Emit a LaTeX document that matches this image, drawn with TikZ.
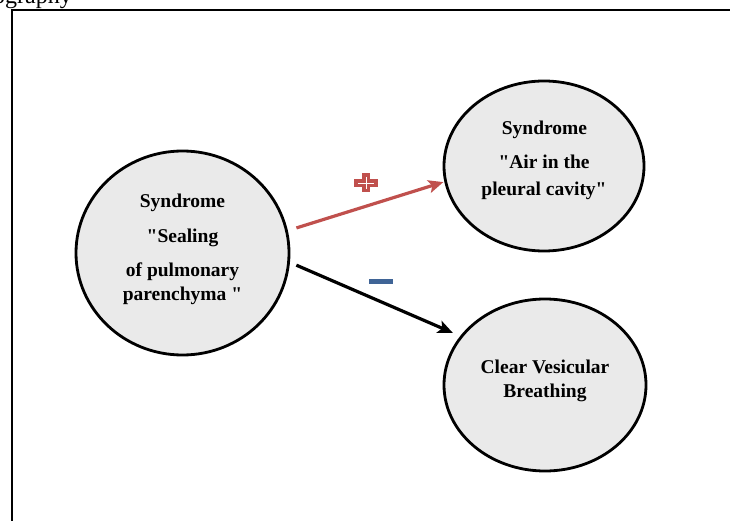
\documentclass[tikz,border=0pt]{standalone}
\usepackage{fontspec}
\setmainfont{Liberation Serif}
\usetikzlibrary{shapes.geometric,arrows.meta,calc}
\definecolor{ellfill}{HTML}{EAEAEA}
\definecolor{plusred}{HTML}{C0504D}
\definecolor{minusblue}{HTML}{3F6496}
\newcommand{\qq}{\textquotedbl}
\tikzset{
  bubble/.style={ellipse, draw=black, line width=2.8pt, fill=ellfill, inner sep=0pt},
  txt/.style={anchor=base, inner sep=0pt, font=\fontsize{19.5}{22}\selectfont\bfseries},
  conn/.style={line width=3.2pt, -{Stealth[length=15pt,width=13pt,inset=3.5pt]}},
}
\begin{document}
\begin{tikzpicture}[x=1pt,y=-1pt]
\useasboundingbox (0,0) rectangle (730,521);
\clip (0,0) rectangle (730,521);
% header fragment and frame
\node[anchor=base east, inner sep=0pt, font=\fontsize{24}{28}\selectfont] (hdr) at (72,4) {ography};
\draw[line width=2pt] (730,10.5) -- (11.5,10.5) -- (11.5,521);
% ellipses
\node[bubble, minimum width=213pt, minimum height=204pt] (L) at (182.5,253) {};
\node[bubble, minimum width=200pt, minimum height=170pt] (TR) at (544,166) {};
\node[bubble, minimum width=202pt, minimum height=172pt] (BR) at (545,385) {};
% texts
\node[txt] (l1) at (182.5,208) {Syndrome};
\node[txt] (l2) at (182.5,242) {\qq Sealing};
\node[txt] (l3) at (182.5,276) {of pulmonary};
\node[txt] (l4) at (182.5,300) {parenchyma \qq};
\node[txt] (r1) at (544.5,135) {Syndrome};
\node[txt] (r2) at (544,169) {\qq Air in the};
\node[txt] (r3) at (544,196) {pleural cavity\qq};
\node[txt] (b1) at (545,373) {Clear Vesicular};
\node[txt] (b2) at (545,397) {Breathing};
% connectors
\draw[conn, draw=plusred, fill=plusred, shorten <=9pt, shorten >=1pt] (L.12.6) -- (TR.189.2);
\draw[conn, draw=black, shorten <=7pt, shorten >=8pt] (L.-5) -- (BR.150);
% plus sign
\node[inner sep=0pt] (plus) at (366,183) {};
\fill[plusred] ($(plus)+(-12,-3.8)$) rectangle ($(plus)+(12,3.8)$);
\fill[plusred] ($(plus)+(-4.2,-9.5)$) rectangle ($(plus)+(4.2,9.5)$);
\draw[white, line width=0.5pt] ($(plus)+(-8,0)$) -- ($(plus)+(8,0)$) ($(plus)+(0,-6)$) -- ($(plus)+(0,6)$);
% minus sign
\node[fill=minusblue, minimum width=24pt, minimum height=4.5pt, inner sep=0pt] (minus) at (381,281.5) {};
\end{tikzpicture}
\end{document}
